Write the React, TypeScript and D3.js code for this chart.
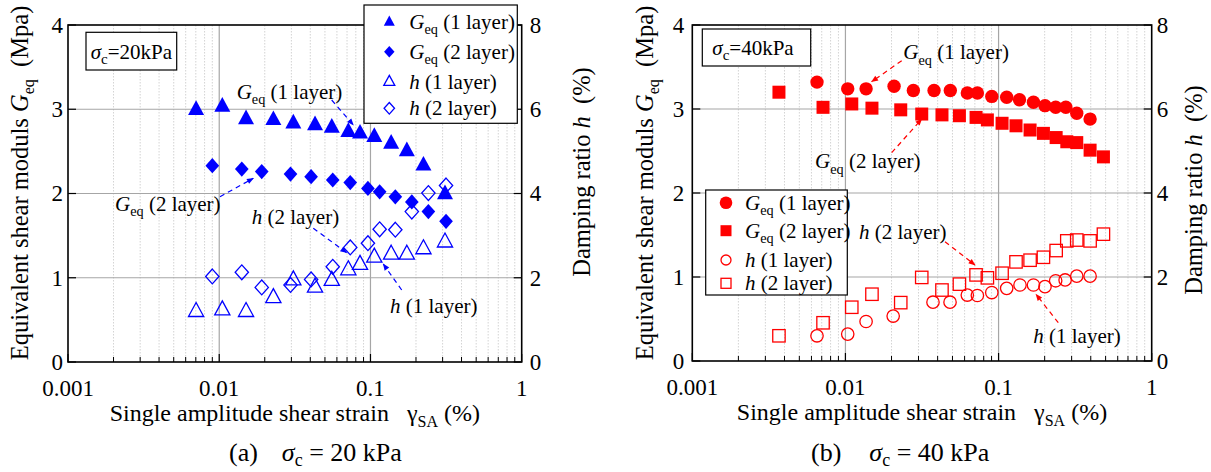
import React from 'react';
import * as d3 from 'd3';

// ---------- Data: panel (a) sigma_c = 20 kPa ----------
const strainA_1 = [0.00703, 0.01048, 0.01504, 0.0228, 0.0309, 0.043, 0.0555, 0.0714, 0.0853, 0.106, 0.137, 0.174, 0.224, 0.311];
const geqA_1 = [3.0, 3.04, 2.89, 2.88, 2.84, 2.82, 2.79, 2.74, 2.72, 2.68, 2.6, 2.51, 2.34, 2.0];
const hA_1 = [1.21, 1.25, 1.21, 1.54, 1.96, 1.79, 1.95, 2.2, 2.33, 2.5, 2.57, 2.57, 2.7, 2.86];
const strainA_2 = [0.009, 0.0141, 0.0191, 0.0296, 0.0405, 0.0563, 0.0735, 0.0962, 0.115, 0.146, 0.1877, 0.2415, 0.316];
const geqA_2 = [2.33, 2.29, 2.26, 2.23, 2.2, 2.16, 2.13, 2.06, 2.02, 1.96, 1.9, 1.785, 1.67];
const hA_2 = [2.03, 2.13, 1.77, 1.83, 1.96, 2.26, 2.72, 2.82, 3.15, 3.14, 3.57, 4.01, 4.19];

// ---------- Data: panel (b) sigma_c = 40 kPa ----------
const strainB_1 = [0.00652, 0.01035, 0.01364, 0.02078, 0.02777, 0.0379, 0.0484, 0.0625, 0.0727, 0.0903, 0.113, 0.137, 0.169, 0.201, 0.236, 0.275, 0.324, 0.396];
const geqB_1 = [3.32, 3.24, 3.24, 3.27, 3.22, 3.22, 3.22, 3.19, 3.19, 3.15, 3.14, 3.11, 3.08, 3.04, 3.02, 3.02, 2.95, 2.88];
const strainB_h1 = [0.00652, 0.01035, 0.01364, 0.0205, 0.0373, 0.0482, 0.0625, 0.0727, 0.0903, 0.113, 0.138, 0.169, 0.201, 0.236, 0.272, 0.324, 0.396];
const hB_1 = [0.6, 0.64, 0.94, 1.07, 1.4, 1.4, 1.57, 1.56, 1.63, 1.73, 1.81, 1.81, 1.77, 1.91, 1.93, 2.02, 2.02];
const strainB_2 = [0.00368, 0.00714, 0.011, 0.0149, 0.02297, 0.0315, 0.0427, 0.0555, 0.0713, 0.0845, 0.1054, 0.13, 0.1606, 0.1963, 0.2377, 0.279, 0.324, 0.396, 0.484];
const geqB_2 = [3.2, 3.02, 3.06, 3.01, 2.99, 2.94, 2.93, 2.92, 2.9, 2.87, 2.83, 2.8, 2.75, 2.71, 2.66, 2.61, 2.6, 2.51, 2.43];
const hB_2 = [0.6, 0.91, 1.28, 1.59, 1.39, 1.99, 1.69, 1.83, 2.05, 1.98, 2.09, 2.36, 2.4, 2.47, 2.63, 2.86, 2.88, 2.86, 3.02];

// ---------- Axes ----------
const xDomain = [0.001, 1];
const xTickLabels = ['0.001', '0.01', '0.1', '1'];
const gTicks = [0, 1, 2, 3, 4];
const hTicks = [0, 2, 4, 6, 8];

const FONT = "'Liberation Serif', 'Times New Roman', 'DejaVu Serif', serif";

type Shape = 'triangle' | 'diamond' | 'circle' | 'square';

function Marker({ shape, filled, color, r, cx, cy }: { shape: Shape; filled: boolean; color: string; r: number; cx: number; cy: number }) {
  const fill = filled ? color : 'none';
  const stroke = filled ? 'none' : color;
  const sw = 1.3;
  if (shape === 'circle') return <circle cx={cx} cy={cy} r={r} fill={fill} stroke={stroke} strokeWidth={sw} />;
  if (shape === 'square') return <rect x={cx - r} y={cy - r} width={2 * r} height={2 * r} fill={fill} stroke={stroke} strokeWidth={sw} />;
  let d = '';
  if (shape === 'triangle') d = `M0,${-r * 1.12}L${r},${r * 0.72}L${-r},${r * 0.72}Z`;
  else d = `M0,${-r}L${r * 0.9},0L0,${r}L${-r * 0.9},0Z`;
  return <path d={d} transform={`translate(${cx},${cy})`} fill={fill} stroke={stroke} strokeWidth={sw} strokeLinejoin="miter" />;
}

function Label({ kind, layer, fs }: { kind: 'G' | 'h'; layer: string; fs: number }) {
  if (kind === 'G')
    return (
      <>
        <tspan fontStyle="italic">G</tspan>
        <tspan fontSize={fs * 0.68} dy={fs * 0.25}>eq</tspan>
        <tspan dy={-fs * 0.25}>{` (${layer} layer)`}</tspan>
      </>
    );
  return (
    <>
      <tspan fontStyle="italic">h</tspan>
      <tspan>{` (${layer} layer)`}</tspan>
    </>
  );
}

type Series = { x: number[]; y: number[]; axis: 'G' | 'h'; shape: Shape; filled: boolean; kind: 'G' | 'h'; layer: string; lr: number; r: number };
type Annot = { kind: 'G' | 'h'; layer: string; tx: number; ty: number; ax1: number; ay1: number; ax2: number; ay2: number };

type PanelCfg = {
  left: number; right: number; top: number; bottom: number;
  color: string; arrowId: string;
  series: Series[];
  legend: { x0: number; y0: number; x1: number; y1: number; rows: number[]; mx: number; tx: number };
  sigmaBox: { x0: number; y0: number; x1: number; y1: number; tx: number; ty: number; value: string };
  annots: Annot[];
  yTickGapL: number; yTickGapR: number;
  yLabelL: { x: number; y: number }; yLabelR: { x: number; y: number };
  caption: { x: number; letter: string; value: string; gap: number };
};

const txt: React.CSSProperties = { whiteSpace: 'pre', fontFamily: FONT };

function Panel({ cfg }: { cfg: PanelCfg }) {
  const x = d3.scaleLog().domain(xDomain).range([cfg.left, cfg.right]);
  const yG = d3.scaleLinear().domain([0, 4]).range([cfg.bottom, cfg.top]);
  const yH = d3.scaleLinear().domain([0, 8]).range([cfg.bottom, cfg.top]);
  const allTicks = x.ticks();
  const isMajor = (t: number) => Math.abs(Math.log10(t) - Math.round(Math.log10(t))) < 1e-6;
  const minor = allTicks.filter((t) => !isMajor(t));
  const major = xTickLabels.map((s) => +s);
  const c = cfg.color;
  const cx = (cfg.left + cfg.right) / 2;
  return (
    <g>
      {minor.map((t, i) => (
        <line key={'mg' + i} x1={x(t)} x2={x(t)} y1={cfg.top} y2={cfg.bottom} stroke="#c8c8c8" strokeWidth={0.8} strokeDasharray="1.5,1.5" />
      ))}
      {major.slice(1, -1).map((t, i) => (
        <line key={'Mg' + i} x1={x(t)} x2={x(t)} y1={cfg.top} y2={cfg.bottom} stroke="#a6a6a6" strokeWidth={1.2} />
      ))}
      {gTicks.slice(1, -1).map((t, i) => (
        <line key={'hg' + i} x1={cfg.left} x2={cfg.right} y1={yG(t)} y2={yG(t)} stroke="#a6a6a6" strokeWidth={1.2} />
      ))}
      {minor.map((t, i) => (
        <line key={'mt' + i} x1={x(t)} x2={x(t)} y1={cfg.bottom} y2={cfg.bottom - 5} stroke="#000" strokeWidth={1} />
      ))}
      {major.map((t, i) => (
        <line key={'Mt' + i} x1={x(t)} x2={x(t)} y1={cfg.bottom} y2={cfg.bottom - 8} stroke="#000" strokeWidth={1.2} />
      ))}
      {gTicks.map((t, i) => (
        <line key={'lt' + i} x1={cfg.left} x2={cfg.left + 8} y1={yG(t)} y2={yG(t)} stroke="#000" strokeWidth={1.2} />
      ))}
      {hTicks.map((t, i) => (
        <line key={'rt' + i} x1={cfg.right} x2={cfg.right - 8} y1={yH(t)} y2={yH(t)} stroke="#000" strokeWidth={1.2} />
      ))}
      <rect x={cfg.left} y={cfg.top} width={cfg.right - cfg.left} height={cfg.bottom - cfg.top} fill="none" stroke="#000" strokeWidth={1.6} />
      {xTickLabels.map((s, i) => (
        <text key={'xl' + i} x={x(+s)} y={cfg.bottom + 34} fontSize={23} textAnchor="middle" style={txt}>{s}</text>
      ))}
      {gTicks.map((t, i) => (
        <text key={'yl' + i} x={cfg.left - cfg.yTickGapL} y={yG(t)} dy="0.34em" fontSize={23} textAnchor="end" style={txt}>{t}</text>
      ))}
      {hTicks.map((t, i) => (
        <text key={'yr' + i} x={cfg.right + cfg.yTickGapR} y={yH(t)} dy="0.34em" fontSize={23} textAnchor="start" style={txt}>{t}</text>
      ))}
      <text x={cx} y={cfg.bottom + 59} fontSize={24} textAnchor="middle" style={txt}>
        <tspan>{'Single amplitude shear strain   '}</tspan>
        <tspan>γ</tspan>
        <tspan fontSize={16} dy={6}>SA</tspan>
        <tspan dy={-6}>{' (%)'}</tspan>
      </text>
      <text transform={`translate(${cfg.yLabelL.x},${cfg.yLabelL.y}) rotate(-90)`} fontSize={24.5} textAnchor="middle" dy="0.34em" style={txt}>
        <tspan>{'Equivalent shear moduls '}</tspan>
        <tspan fontStyle="italic">G</tspan>
        <tspan fontSize={16} dy={6}>eq</tspan>
        <tspan dy={-6}>{'  (Mpa)'}</tspan>
      </text>
      <text transform={`translate(${cfg.yLabelR.x},${cfg.yLabelR.y}) rotate(-90)`} fontSize={24.5} textAnchor="middle" dy="0.34em" style={txt}>
        <tspan>{'Damping ratio '}</tspan>
        <tspan fontStyle="italic">h</tspan>
        <tspan>{'  (%)'}</tspan>
      </text>
      <text x={cfg.caption.x} y={461} fontSize={26} textAnchor="start" style={txt}>
        <tspan>{`(${cfg.caption.letter})`}</tspan>
        <tspan dx={cfg.caption.gap} fontStyle="italic">σ</tspan>
        <tspan fontSize={18} dy={5}>c</tspan>
        <tspan dy={-5}>{` = ${cfg.caption.value} kPa`}</tspan>
      </text>
      <rect x={cfg.sigmaBox.x0} y={cfg.sigmaBox.y0} width={cfg.sigmaBox.x1 - cfg.sigmaBox.x0} height={cfg.sigmaBox.y1 - cfg.sigmaBox.y0} fill="#fff" stroke="#000" strokeWidth={1.2} />
      <text x={cfg.sigmaBox.tx} y={cfg.sigmaBox.ty} fontSize={21} style={txt}>
        <tspan fontStyle="italic">σ</tspan>
        <tspan fontSize={15} dy={5}>c</tspan>
        <tspan dy={-5}>{`=${cfg.sigmaBox.value}kPa`}</tspan>
      </text>
      {cfg.series.map((s, si) => (
        <g key={'s' + si}>
          {s.x.map((xv, i) => (
            <Marker key={i} shape={s.shape} filled={s.filled} color={c} r={s.r} cx={x(xv)} cy={s.axis === 'G' ? yG(s.y[i]) : yH(s.y[i])} />
          ))}
        </g>
      ))}
      {cfg.annots.map((a, i) => (
        <g key={'a' + i}>
          <line x1={a.ax1} y1={a.ay1} x2={a.ax2} y2={a.ay2} stroke={c} strokeWidth={1.2} strokeDasharray="5,4" markerEnd={`url(#${cfg.arrowId})`} />
          <text x={a.tx} y={a.ty} fontSize={21} style={txt}>
            <Label kind={a.kind} layer={a.layer} fs={21} />
          </text>
        </g>
      ))}
      <rect x={cfg.legend.x0} y={cfg.legend.y0} width={cfg.legend.x1 - cfg.legend.x0} height={cfg.legend.y1 - cfg.legend.y0} fill="#fff" stroke="#000" strokeWidth={1.2} />
      {cfg.series.map((s, i) => (
        <g key={'l' + i}>
          <Marker shape={s.shape} filled={s.filled} color={c} r={s.lr} cx={cfg.legend.mx} cy={cfg.legend.rows[i]} />
          <text x={cfg.legend.tx} y={cfg.legend.rows[i] + 7} fontSize={21} style={txt}>
            <Label kind={s.kind} layer={s.layer} fs={21} />
          </text>
        </g>
      ))}
    </g>
  );
}

const panelA: PanelCfg = {
  left: 68, right: 521.7, top: 25, bottom: 362,
  color: '#0000ff', arrowId: 'arrowBlue',
  series: [
    { x: strainA_1, y: geqA_1, axis: 'G', shape: 'triangle', filled: true, kind: 'G', layer: '1', r: 8, lr: 5.5 },
    { x: strainA_2, y: geqA_2, axis: 'G', shape: 'diamond', filled: true, kind: 'G', layer: '2', r: 7.6, lr: 5.8 },
    { x: strainA_1, y: hA_1, axis: 'h', shape: 'triangle', filled: false, kind: 'h', layer: '1', r: 7.6, lr: 5.5 },
    { x: strainA_2, y: hA_2, axis: 'h', shape: 'diamond', filled: false, kind: 'h', layer: '2', r: 7.4, lr: 5.8 },
  ],
  legend: { x0: 364, y0: 5, x1: 517.3, y1: 123.3, rows: [21.7, 51.7, 81.5, 108.3], mx: 389.3, tx: 409.3 },
  sigmaBox: { x0: 86, y0: 32.3, x1: 176.7, y1: 70, tx: 90.7, ty: 58.5, value: '20' },
  annots: [
    { kind: 'G', layer: '1', tx: 236.7, ty: 99, ax1: 331.7, ay1: 100, ax2: 353.3, ay2: 125 },
    { kind: 'G', layer: '2', tx: 115, ty: 210.7, ax1: 220, ay1: 196.7, ax2: 253.3, ay2: 178.3 },
    { kind: 'h', layer: '2', tx: 251.7, ty: 224.3, ax1: 313.3, ay1: 228.3, ax2: 346.7, ay2: 252.7 },
    { kind: 'h', layer: '1', tx: 390, ty: 313.3, ax1: 401.7, ay1: 290, ax2: 383.3, ay2: 264 },
  ],
  yTickGapL: 5, yTickGapR: 8,
  yLabelL: { x: 20, y: 183 }, yLabelR: { x: 582, y: 172 },
  caption: { x: 229, letter: 'a', value: '20', gap: 24 },
};

const panelB: PanelCfg = {
  left: 692.3, right: 1151.7, top: 25, bottom: 361,
  color: '#ff0000', arrowId: 'arrowRed',
  series: [
    { x: strainB_1, y: geqB_1, axis: 'G', shape: 'circle', filled: true, kind: 'G', layer: '1', r: 6.7, lr: 6.3 },
    { x: strainB_2, y: geqB_2, axis: 'G', shape: 'square', filled: true, kind: 'G', layer: '2', r: 6.5, lr: 5.5 },
    { x: strainB_h1, y: hB_1, axis: 'h', shape: 'circle', filled: false, kind: 'h', layer: '1', r: 6.2, lr: 5 },
    { x: strainB_2, y: hB_2, axis: 'h', shape: 'square', filled: false, kind: 'h', layer: '2', r: 6.2, lr: 5 },
  ],
  legend: { x0: 705.7, y0: 190, x1: 847.3, y1: 295, rows: [202.7, 230.7, 260, 283.3], mx: 726, tx: 745 },
  sigmaBox: { x0: 702.3, y0: 29, x1: 810.7, y1: 66, tx: 712.3, ty: 55, value: '40' },
  annots: [
    { kind: 'G', layer: '1', tx: 903.3, ty: 59.3, ax1: 901.7, ay1: 60.7, ax2: 871.7, ay2: 81.7 },
    { kind: 'G', layer: '2', tx: 815, ty: 168.3, ax1: 891.7, ay1: 152.7, ax2: 921.7, ay2: 119 },
    { kind: 'h', layer: '2', tx: 859, ty: 239.3, ax1: 945, ay1: 241.7, ax2: 975, ay2: 265 },
    { kind: 'h', layer: '1', tx: 1033.3, ty: 343.3, ax1: 1058.3, ay1: 322.7, ax2: 1036, ay2: 294.3 },
  ],
  yTickGapL: 8, yTickGapR: 5,
  yLabelL: { x: 645, y: 183 }, yLabelR: { x: 1194, y: 190 },
  caption: { x: 811, letter: 'b', value: '40', gap: 28 },
};

export default function App() {
  return (
    <svg width={1211} height={472} style={{ position: 'absolute', left: 0, top: 0, display: 'block', background: '#fff', fontFamily: FONT }}>
      <defs>
        <marker id="arrowBlue" viewBox="0 0 10 10" refX="9" refY="5" markerWidth="9" markerHeight="7" markerUnits="userSpaceOnUse" orient="auto">
          <path d="M0,1L10,5L0,9Z" fill="#0000ff" />
        </marker>
        <marker id="arrowRed" viewBox="0 0 10 10" refX="9" refY="5" markerWidth="9" markerHeight="7" markerUnits="userSpaceOnUse" orient="auto">
          <path d="M0,1L10,5L0,9Z" fill="#ff0000" />
        </marker>
      </defs>
      <rect x={0} y={0} width={1211} height={472} fill="#fff" />
      <Panel cfg={panelA} />
      <Panel cfg={panelB} />
    </svg>
  );
}
